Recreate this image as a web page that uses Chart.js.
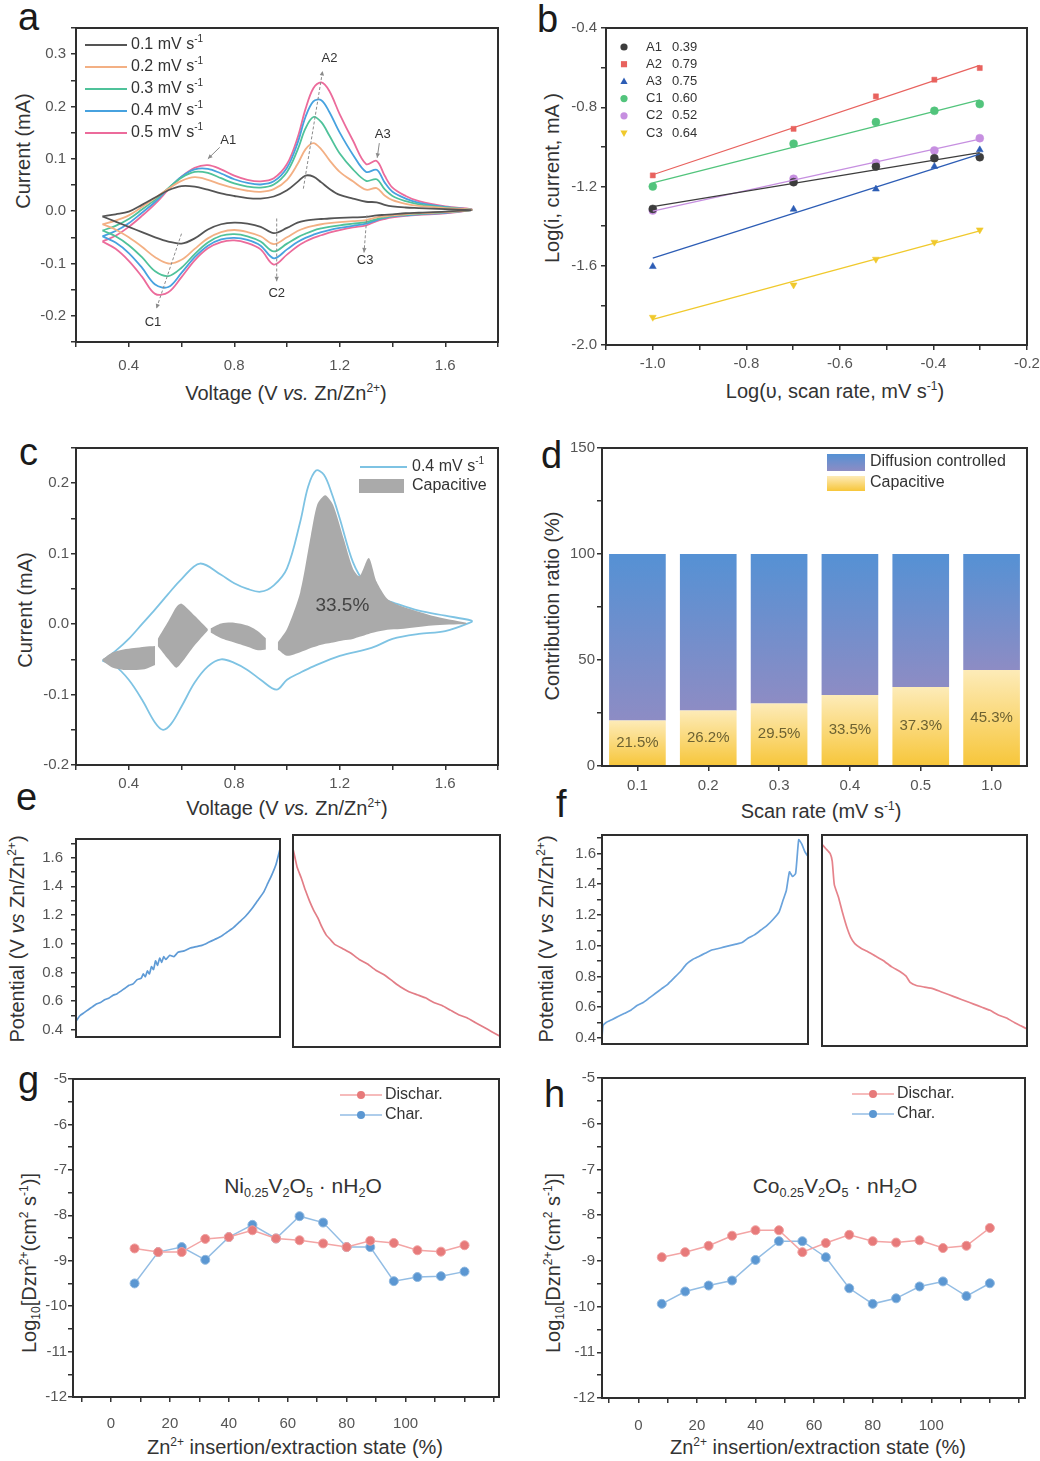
<!DOCTYPE html>
<html><head><meta charset="utf-8"><title>Figure</title>
<script src="https://cdn.jsdelivr.net/npm/chart.js@4.4.1/dist/chart.umd.min.js"></script>
<style>
html,body{margin:0;padding:0;background:#fff;}
body{width:1040px;height:1461px;position:relative;overflow:hidden;font-family:"Liberation Sans",Arial,Helvetica,sans-serif;}
canvas{position:absolute;}
.t{position:absolute;color:#333;font-size:20px;white-space:nowrap;line-height:1;}
.yt{transform:translate(-50%,-50%) rotate(-90deg);}
.xt{transform:translate(-50%,-50%);}
.t sup{font-size:0.6em;vertical-align:0.7em;line-height:0;}
.t sub{font-size:0.6em;vertical-align:-0.3em;line-height:0;}
.L{position:absolute;font-size:38px;line-height:1;color:#1a1a1a;}
.fm{position:absolute;font-size:21px;line-height:1;color:#333;white-space:nowrap;transform:translateX(-50%);}
.fm sub{font-size:0.6em;vertical-align:-0.35em;line-height:0;}
</style></head><body>
<div class="L" style="left:18px;top:-2px">a</div>
<div class="L" style="left:537px;top:0px">b</div>
<div class="L" style="left:19px;top:433px">c</div>
<div class="L" style="left:541px;top:436px">d</div>
<div class="L" style="left:16px;top:778px">e</div>
<div class="L" style="left:556px;top:785px">f</div>
<div class="L" style="left:18px;top:1061px">g</div>
<div class="L" style="left:544px;top:1075px">h</div>

<div class="t yt" style="left:23px;top:151px">Current (mA)</div>
<div class="t xt" style="left:286px;top:393px">Voltage (V <i>vs.</i> Zn/Zn<sup>2+</sup>)</div>
<div class="t yt" style="left:552px;top:178px">Log(i, current, mA )</div>
<div class="t xt" style="left:835px;top:391px">Log(υ, scan rate, mV s<sup>-1</sup>)</div>
<div class="t yt" style="left:25px;top:610px">Current (mA)</div>
<div class="t xt" style="left:287px;top:808px">Voltage (V <i>vs.</i> Zn/Zn<sup>2+</sup>)</div>
<div class="t yt" style="left:552px;top:606px">Contribution ratio (%)</div>
<div class="t xt" style="left:821px;top:811px">Scan rate (mV s<sup>-1</sup>)</div>
<div class="t yt" style="left:17px;top:939px">Potential (V <i>vs</i> Zn/Zn<sup>2+</sup>)</div>
<div class="t yt" style="left:546px;top:939px">Potential (V <i>vs</i> Zn/Zn<sup>2+</sup>)</div>
<div class="t yt" style="left:29px;top:1263px">Log<sub>10</sub>[Dzn<sup>2+</sup>(cm<sup>2</sup> s<sup>-1</sup>)]</div>
<div class="t yt" style="left:553px;top:1263px">Log<sub>10</sub>[Dzn<sup>2+</sup>(cm<sup>2</sup> s<sup>-1</sup>)]</div>
<div class="t xt" style="left:295px;top:1447px">Zn<sup>2+</sup> insertion/extraction state (%)</div>
<div class="t xt" style="left:818px;top:1447px">Zn<sup>2+</sup> insertion/extraction state (%)</div>
<div class="fm" style="left:303px;top:1175px">Ni<sub>0.25</sub>V<sub>2</sub>O<sub>5</sub>&nbsp;·&nbsp;nH<sub>2</sub>O</div>
<div class="fm" style="left:835px;top:1175px">Co<sub>0.25</sub>V<sub>2</sub>O<sub>5</sub>&nbsp;·&nbsp;nH<sub>2</sub>O</div>

<script>
const FONT='"Liberation Sans", Arial, Helvetica, sans-serif';

// ===== Panel a: CV curves at several scan rates =====
const scanRateNames=['0.1','0.2','0.3','0.4','0.5'];
const voltageGrid=[0.30,0.35,0.40,0.45,0.50,0.55,0.60,0.65,0.70,0.75,0.80,0.85,0.90,0.95,1.00,1.04,1.07,1.10,1.13,1.16,1.20,1.25,1.30,1.34,1.37,1.40,1.45,1.50,1.60,1.70];
const anodic01=[-0.010,-0.006,-0.001,0.012,0.026,0.040,0.048,0.047,0.041,0.034,0.029,0.025,0.024,0.028,0.040,0.056,0.068,0.066,0.055,0.043,0.031,0.024,0.018,0.017,0.012,0.009,0.007,0.006,0.004,0.002];
const anodic02=[-0.025,-0.018,-0.008,0.008,0.025,0.043,0.058,0.065,0.060,0.051,0.044,0.039,0.037,0.042,0.060,0.090,0.118,0.130,0.118,0.098,0.075,0.057,0.041,0.044,0.030,0.021,0.014,0.010,0.006,0.003];
const anodic03=[-0.037,-0.028,-0.015,0.003,0.022,0.044,0.064,0.075,0.073,0.063,0.053,0.047,0.045,0.051,0.075,0.117,0.158,0.180,0.170,0.145,0.110,0.080,0.058,0.061,0.042,0.029,0.019,0.013,0.007,0.003];
const anodic04=[-0.048,-0.038,-0.023,-0.003,0.018,0.043,0.066,0.080,0.081,0.072,0.061,0.054,0.051,0.057,0.083,0.130,0.180,0.210,0.212,0.190,0.150,0.108,0.075,0.079,0.055,0.037,0.024,0.016,0.008,0.003];
const anodic05=[-0.058,-0.047,-0.030,-0.009,0.014,0.041,0.066,0.083,0.088,0.080,0.068,0.060,0.057,0.063,0.090,0.140,0.195,0.235,0.246,0.230,0.185,0.135,0.090,0.096,0.068,0.045,0.029,0.019,0.009,0.004];
const cathodic01=[-0.010,-0.020,-0.030,-0.040,-0.050,-0.058,-0.062,-0.052,-0.035,-0.025,-0.022,-0.024,-0.030,-0.042,-0.032,-0.022,-0.018,-0.016,-0.015,-0.014,-0.013,-0.012,-0.011,-0.008,-0.007,-0.006,-0.004,-0.003,-0.001,0.002];
const cathodic02=[-0.025,-0.035,-0.050,-0.068,-0.088,-0.100,-0.093,-0.072,-0.052,-0.040,-0.036,-0.040,-0.048,-0.063,-0.050,-0.038,-0.032,-0.028,-0.025,-0.023,-0.021,-0.019,-0.017,-0.012,-0.010,-0.008,-0.006,-0.004,-0.002,0.002];
const cathodic03=[-0.037,-0.048,-0.065,-0.088,-0.115,-0.124,-0.108,-0.082,-0.060,-0.047,-0.044,-0.048,-0.058,-0.077,-0.062,-0.050,-0.043,-0.037,-0.033,-0.030,-0.027,-0.024,-0.021,-0.015,-0.012,-0.009,-0.007,-0.005,-0.002,0.002];
const cathodic04=[-0.048,-0.060,-0.080,-0.108,-0.140,-0.145,-0.118,-0.088,-0.066,-0.054,-0.051,-0.055,-0.066,-0.090,-0.073,-0.059,-0.051,-0.045,-0.040,-0.036,-0.032,-0.028,-0.024,-0.017,-0.013,-0.010,-0.008,-0.006,-0.003,0.002];
const cathodic05=[-0.058,-0.072,-0.095,-0.125,-0.158,-0.155,-0.126,-0.094,-0.071,-0.059,-0.056,-0.061,-0.073,-0.102,-0.083,-0.067,-0.058,-0.051,-0.046,-0.041,-0.036,-0.031,-0.027,-0.019,-0.015,-0.012,-0.009,-0.007,-0.004,0.002];

// ===== Panel b: log(i) vs log(v) =====
const logScanRate=[-1.0,-0.699,-0.523,-0.398,-0.301];
const peakNames=['A1','A2','A3','C1','C2','C3'];
const bSlopes=[0.39,0.79,0.75,0.60,0.52,0.64];
const logI_A1=[-1.313,-1.178,-1.099,-1.057,-1.052];
const logI_A2=[-1.144,-0.909,-0.745,-0.661,-0.602];
const logI_A3=[-1.604,-1.315,-1.213,-1.099,-1.015];
const logI_C1=[-1.200,-0.984,-0.875,-0.818,-0.784];
const logI_C2=[-1.321,-1.161,-1.082,-1.018,-0.956];
const logI_C3=[-1.860,-1.697,-1.567,-1.481,-1.419];

// ===== Panel c: CV at 0.4 mV/s and capacitive part =====
const cvVoltAnodic=[0.30,0.35,0.40,0.45,0.50,0.55,0.60,0.67,0.75,0.80,0.85,0.90,0.95,1.00,1.05,1.08,1.11,1.14,1.17,1.20,1.25,1.30,1.35,1.40,1.50,1.60,1.70];
const cvCurrAnodic=[-0.052,-0.038,-0.021,0.000,0.021,0.043,0.064,0.086,0.070,0.058,0.050,0.046,0.055,0.079,0.145,0.195,0.218,0.212,0.185,0.150,0.088,0.055,0.038,0.031,0.019,0.012,0.005];
const cvVoltCathodic=[0.30,0.35,0.40,0.45,0.50,0.53,0.56,0.60,0.65,0.70,0.75,0.80,0.85,0.90,0.96,1.00,1.05,1.10,1.20,1.30,1.34,1.40,1.50,1.60,1.70];
const cvCurrCathodic=[-0.052,-0.060,-0.079,-0.107,-0.140,-0.150,-0.142,-0.117,-0.083,-0.060,-0.050,-0.055,-0.065,-0.079,-0.093,-0.079,-0.069,-0.060,-0.045,-0.036,-0.031,-0.021,-0.014,-0.010,0.003];
const capV1=[0.30,0.34,0.38,0.42,0.46,0.50];
const capUp1=[-0.050,-0.040,-0.036,-0.034,-0.032,-0.031];
const capLo1=[-0.052,-0.062,-0.065,-0.065,-0.064,-0.058];
const capV2=[0.51,0.55,0.58,0.60,0.65,0.70];
const capUp2=[-0.021,0.004,0.024,0.029,0.012,-0.007];
const capLo2=[-0.031,-0.050,-0.062,-0.055,-0.030,-0.009];
const capV3=[0.71,0.75,0.80,0.85,0.89,0.92];
const capUp3=[-0.006,0.001,0.002,-0.002,-0.010,-0.020];
const capLo3=[-0.012,-0.020,-0.026,-0.032,-0.037,-0.036];
const capV4=[0.965,1.00,1.05,1.09,1.115,1.145,1.175,1.215,1.25,1.275,1.31,1.34,1.38,1.43,1.55,1.68];
const capUp4=[-0.026,-0.007,0.045,0.125,0.170,0.183,0.169,0.121,0.079,0.068,0.094,0.060,0.036,0.026,0.012,0.002];
const capLo4=[-0.036,-0.045,-0.040,-0.034,-0.031,-0.028,-0.026,-0.023,-0.021,-0.018,-0.014,-0.011,-0.008,-0.007,-0.002,0.000];

// ===== Panel d: contribution ratio =====
const scanRateLabels=['0.1','0.2','0.3','0.4','0.5','1.0'];
const capacitivePct=[21.5,26.2,29.5,33.5,37.3,45.3];

// ===== Panels e, f: GITT profiles =====
const eChargeX=[0,2,4,6,8,10,12,14,16,18,20,22,24,26,28,30,32,33,34,35,36,37,38,39,40,41,42,43,44,46,48,50,53,56,59,62,65,68,71,74,77,80,83,86,89,92,94,96,98,100];
const eChargeV=[0.46,0.50,0.52,0.54,0.56,0.58,0.59,0.61,0.62,0.64,0.65,0.67,0.69,0.71,0.72,0.75,0.76,0.79,0.77,0.81,0.79,0.84,0.82,0.88,0.85,0.90,0.87,0.91,0.89,0.92,0.91,0.94,0.95,0.97,0.98,0.99,1.01,1.03,1.05,1.08,1.11,1.15,1.19,1.24,1.30,1.36,1.42,1.48,1.55,1.66];
const eDischX=[0,1,2,4,6,8,10,12,14,16,18,20,24,28,32,36,40,44,48,52,56,60,64,68,72,76,80,84,88,92,96,100];
const eDischV=[1.64,1.58,1.52,1.45,1.37,1.30,1.24,1.19,1.13,1.08,1.05,1.02,0.99,0.96,0.92,0.89,0.85,0.82,0.78,0.74,0.71,0.69,0.67,0.64,0.62,0.59,0.56,0.54,0.51,0.48,0.45,0.42];
const fChargeX=[0,0.5,2,5,8,11,14,17,20,23,26,29,32,35,38,41,44,47,50,53,56,59,62,65,68,71,74,77,80,83,86,88,89.5,91,92.5,94,95.5,97,98.5,100];
const fChargeV=[0.40,0.48,0.50,0.52,0.54,0.56,0.58,0.61,0.63,0.66,0.69,0.72,0.75,0.79,0.83,0.88,0.91,0.93,0.95,0.97,0.98,0.99,1.00,1.01,1.02,1.05,1.07,1.10,1.13,1.17,1.22,1.30,1.36,1.48,1.45,1.47,1.69,1.66,1.61,1.58];
const fDischX=[0,2,4,5,6,8,10,12,14,16,19,22,26,30,34,38,41,43,46,50,54,58,62,66,70,74,78,82,86,90,94,97,100];
const fDischV=[1.66,1.63,1.60,1.55,1.40,1.32,1.22,1.13,1.06,1.02,0.99,0.97,0.94,0.91,0.87,0.84,0.81,0.77,0.75,0.74,0.73,0.71,0.69,0.67,0.65,0.63,0.61,0.59,0.56,0.54,0.51,0.49,0.47];

// ===== Panels g, h: diffusion coefficients =====
const stateX=[8,16,24,32,40,48,56,64,72,80,88,96,104,112,120];
const gDischar=[-8.73,-8.81,-8.81,-8.52,-8.48,-8.33,-8.51,-8.55,-8.62,-8.70,-8.56,-8.61,-8.77,-8.80,-8.66];
const gChar=[-9.50,-8.81,-8.70,-8.98,-8.48,-8.21,-8.51,-8.02,-8.16,-8.70,-8.70,-9.45,-9.36,-9.34,-9.24];
const hDischar=[-8.92,-8.81,-8.67,-8.45,-8.33,-8.33,-8.81,-8.61,-8.43,-8.57,-8.60,-8.55,-8.72,-8.67,-8.28];
const hChar=[-9.94,-9.67,-9.54,-9.43,-8.98,-8.57,-8.57,-8.92,-9.60,-9.94,-9.82,-9.56,-9.45,-9.77,-9.49];

// ================= helpers =================
Chart.defaults.font.family=FONT;
Chart.defaults.color='#555';
Chart.defaults.animation=false;
Chart.defaults.plugins.legend.display=false;
Chart.defaults.plugins.tooltip.enabled=false;

function fmt(v,dec){ if(Math.abs(v)<1e-9) v=0; return dec==null? String(Math.round(v)) : v.toFixed(dec); }
function onStep(v,s){ const r=v/s; return Math.abs(r-Math.round(r))<1e-6; }
function lin(min,max,step,major,dec,pad,labelMax){
  return {type:'linear',min,max,
    grid:{display:true,drawOnChartArea:false,drawTicks:true,tickLength:5,lineWidth:1.5,color:'#333'},
    border:{display:false},
    afterBuildTicks:s=>{const out=[];const k0=Math.ceil(min/step-1e-6),k1=Math.floor(max/step+1e-6);
      for(let k=k0;k<=k1;k++){out.push({value:Math.round(k*step*1e6)/1e6});} s.ticks=out;},
    ticks:{stepSize:step,autoSkip:false,maxRotation:0,minRotation:0,color:'#555',font:{family:FONT,size:15},padding:pad,
      callback:v=>(onStep(v,major)&&(labelMax==null||v<=labelMax+1e-9))?fmt(v,dec):''}};
}
function hid(min,max){ return {type:'linear',min,max,display:false}; }

const framePlugin={id:'frame',afterDatasetsDraw(ch){const {ctx,chartArea:a}=ch;ctx.save();ctx.strokeStyle='#2e2e2e';ctx.lineWidth=2;ctx.strokeRect(a.left,a.top,a.right-a.left,a.bottom-a.top);ctx.restore();}};

function makeChart(rect,box,type,data,scales,plugins){
  const [cx,cy,cw,ch]=rect,[L,T,R,B]=box;
  const cv=document.createElement('canvas');
  cv.width=cw;cv.height=ch;cv.style.left=cx+'px';cv.style.top=cy+'px';cv.style.width=cw+'px';cv.style.height=ch+'px';
  document.body.appendChild(cv);
  const yShow=scales.y.display!==false,xShow=scales.x.display!==false;
  const yW=L-cx,xH=cy+ch-B;
  if(yShow) scales.y.afterFit=s=>{s.width=yW;};
  if(xShow) scales.x.afterFit=s=>{s.height=xH;};
  return new Chart(cv,{type,data,options:{responsive:false,devicePixelRatio:1,animation:false,
    layout:{padding:{left:yShow?0:yW,top:T-cy,right:cx+cw-R,bottom:xShow?0:xH}},
    scales,plugins:{legend:{display:false},tooltip:{enabled:false}}},
    plugins:[framePlugin].concat(plugins||[])});
}
function rich(ctx,x,y,parts,size,color,align){
  let w=0;
  parts.forEach(([t,k])=>{ctx.font=(k==='n'?size:Math.round(size*0.62))+'px '+FONT;w+=ctx.measureText(t).width;});
  let cx=align==='center'?x-w/2:x;
  ctx.textAlign='left';ctx.textBaseline='middle';ctx.fillStyle=color;
  parts.forEach(([t,k])=>{const s=k==='n'?size:Math.round(size*0.62);ctx.font=s+'px '+FONT;
    const dy=k==='sup'?-size*0.33:(k==='sub'?size*0.25:0);ctx.fillText(t,cx,y+dy);cx+=ctx.measureText(t).width;});
}
function arrow(ctx,x1,y1,x2,y2,dash){
  ctx.save();ctx.strokeStyle='#8a8a8a';ctx.fillStyle='#8a8a8a';ctx.lineWidth=1;ctx.setLineDash(dash?[3,2]:[]);
  ctx.beginPath();ctx.moveTo(x1,y1);ctx.lineTo(x2,y2);ctx.stroke();ctx.setLineDash([]);
  const ang=Math.atan2(y2-y1,x2-x1),h=5;
  ctx.beginPath();ctx.moveTo(x2,y2);ctx.lineTo(x2-h*Math.cos(ang-0.45),y2-h*Math.sin(ang-0.45));
  ctx.lineTo(x2-h*Math.cos(ang+0.45),y2-h*Math.sin(ang+0.45));ctx.closePath();ctx.fill();ctx.restore();
}
function marker(ctx,style,x,y,r,color){
  ctx.save();ctx.fillStyle=color;ctx.beginPath();
  if(style==='circle'){ctx.arc(x,y,r,0,Math.PI*2);}
  else if(style==='rect'){ctx.rect(x-r*0.85,y-r*0.85,r*1.7,r*1.7);}
  else if(style==='triangle'){ctx.moveTo(x,y-r*1.1);ctx.lineTo(x+r,y+r*0.7);ctx.lineTo(x-r,y+r*0.7);ctx.closePath();}
  else if(style==='triDown'){ctx.moveTo(x,y+r*1.1);ctx.lineTo(x+r,y-r*0.7);ctx.lineTo(x-r,y-r*0.7);ctx.closePath();}
  ctx.fill();ctx.restore();
}
function pts(xs,ys){return xs.map((x,i)=>({x,y:ys[i]}));}
function loop(xu,yu,xl,yl){const p=pts(xu,yu);for(let i=xl.length-1;i>=0;i--)p.push({x:xl[i],y:yl[i]});return p;}

// ================= Panel a =================
const rateColors=['#555555','#f3b084','#4fc29a','#47a2df','#ec6b9b'];
const anodicSets=[anodic01,anodic02,anodic03,anodic04,anodic05];
const cathodicSets=[cathodic01,cathodic02,cathodic03,cathodic04,cathodic05];
const legendA={id:'legA',afterDraw(ch){const {ctx,chartArea:a}=ch;
  scanRateNames.forEach((r,i)=>{const y=a.top+17+i*22;ctx.save();ctx.strokeStyle=rateColors[i];ctx.lineWidth=2;
    ctx.beginPath();ctx.moveTo(a.left+9,y);ctx.lineTo(a.left+51,y);ctx.stroke();ctx.restore();
    rich(ctx,a.left+55,y,[[r+' mV s','n'],['-1','sup']],16,'#333');});}};
const annotA={id:'annA',afterDraw(ch){const {ctx}=ch;const X=v=>ch.scales.x.getPixelForValue(v),Y=v=>ch.scales.y.getPixelForValue(v);
  const items=[
    {t:'A1',tx:0.777,ty:0.136,l:[0.745,0.122,0.700,0.100],d:false},
    {t:'A2',tx:1.161,ty:0.292,l:[1.062,0.043,1.135,0.268],d:true},
    {t:'A3',tx:1.363,ty:0.146,l:[1.350,0.130,1.342,0.102],d:false},
    {t:'C1',tx:0.492,ty:-0.212,l:[0.600,-0.043,0.505,-0.186],d:true},
    {t:'C2',tx:0.961,ty:-0.158,l:[0.961,-0.014,0.961,-0.134],d:true},
    {t:'C3',tx:1.296,ty:-0.094,l:[1.303,-0.008,1.292,-0.079],d:true}];
  items.forEach(it=>{arrow(ctx,X(it.l[0]),Y(it.l[1]),X(it.l[2]),Y(it.l[3]),it.d);
    ctx.save();ctx.font='13px '+FONT;ctx.fillStyle='#333';ctx.textAlign='center';ctx.textBaseline='middle';ctx.fillText(it.t,X(it.tx),Y(it.ty));ctx.restore();});}};
makeChart([30,10,485,362],[76,28,498,342],'scatter',
  {datasets:scanRateNames.map((n,i)=>({label:n+' mV s-1',data:loop(voltageGrid,anodicSets[i],voltageGrid,cathodicSets[i]),
    showLine:true,borderColor:rateColors[i],borderWidth:1.8,pointRadius:0,tension:0.35,fill:false}))},
  {x:lin(0.2,1.8,0.2,0.4,1,10),y:lin(-0.25,0.35,0.05,0.1,1,5)},[legendA,annotA]);

// ================= Panel b =================
const bSeriesY=[logI_A1,logI_A2,logI_A3,logI_C1,logI_C2,logI_C3];
const bColors=['#3d3d3d','#e8625e','#2d5db5','#52c47c','#c68fe0','#f0c92c'];
const bStyles=['circle','rect','triangle','circle','circle','triDown'];
function fitLine(xs,ys,slope){const mx=xs.reduce((s,v)=>s+v,0)/xs.length,my=ys.reduce((s,v)=>s+v,0)/ys.length;
  const x0=Math.min(...xs),x1=Math.max(...xs);return [{x:x0,y:my+slope*(x0-mx)},{x:x1,y:my+slope*(x1-mx)}];}
const bDatasets=[];
peakNames.forEach((n,i)=>{
  bDatasets.push({label:n+' fit',data:fitLine(logScanRate,bSeriesY[i],bSlopes[i]),showLine:true,borderColor:bColors[i],borderWidth:1.3,pointRadius:0});
});
peakNames.forEach((n,i)=>{
  const st=bStyles[i];
  bDatasets.push({label:n,data:pts(logScanRate,bSeriesY[i]),showLine:false,pointStyle:st==='triDown'?'triangle':st,pointRotation:st==='triDown'?180:0,
    pointRadius:st==='rect'?3.6:4,backgroundColor:bColors[i],borderColor:bColors[i],pointBackgroundColor:bColors[i],pointBorderColor:bColors[i],borderWidth:0.5});
});
const legendB={id:'legB',afterDraw(ch){const {ctx,chartArea:a}=ch;
  peakNames.forEach((n,i)=>{const y=a.top+19+i*17.2;marker(ctx,bStyles[i],a.left+18,y,3.6,bColors[i]);
    ctx.save();ctx.font='13px '+FONT;ctx.fillStyle='#333';ctx.textAlign='left';ctx.textBaseline='middle';
    ctx.fillText(n,a.left+40,y);ctx.fillText(bSlopes[i].toFixed(2),a.left+66,y);ctx.restore();});}};
makeChart([555,10,495,365],[606,28,1027,345],'scatter',{datasets:bDatasets},
  {x:lin(-1.1,-0.2,0.1,0.2,1,5),y:lin(-2.0,-0.4,0.2,0.4,1,4)},[legendB]);

// ================= Panel c =================
const capSegs=[[capV1,capUp1,capLo1],[capV2,capUp2,capLo2],[capV3,capUp3,capLo3],[capV4,capUp4,capLo4]];
const cDatasets=[];
capSegs.forEach(([xv,up,lo])=>{
  cDatasets.push({label:'Capacitive',data:pts(xv,up),showLine:true,borderWidth:0,borderColor:'rgba(0,0,0,0)',pointRadius:0,tension:0.25,fill:'+1',backgroundColor:'#aaaaaa'});
  cDatasets.push({label:'cap-lo',data:pts(xv,lo),showLine:true,borderWidth:0,borderColor:'rgba(0,0,0,0)',pointRadius:0,tension:0.25,fill:false});
});
cDatasets.push({label:'0.4 mV s-1',data:loop(cvVoltAnodic,cvCurrAnodic,cvVoltCathodic,cvCurrCathodic),showLine:true,borderColor:'#7ec3e3',borderWidth:1.8,pointRadius:0,tension:0.35,fill:false});
const legendC={id:'legC',afterDraw(ch){const {ctx,chartArea:a}=ch;
  ctx.save();ctx.strokeStyle='#7ec3e3';ctx.lineWidth=2;ctx.beginPath();ctx.moveTo(a.left+284,a.top+19);ctx.lineTo(a.left+331,a.top+19);ctx.stroke();
  ctx.fillStyle='#aaaaaa';ctx.fillRect(a.left+283,a.top+31,45,14);ctx.restore();
  rich(ctx,a.left+336,a.top+19,[['0.4 mV s','n'],['-1','sup']],16,'#333');
  rich(ctx,a.left+336,a.top+38,[['Capacitive','n']],16,'#333');
  const X=ch.scales.x.getPixelForValue(1.21),Y=ch.scales.y.getPixelForValue(0.026);
  rich(ctx,X,Y,[[capacitivePct[3].toFixed(1)+'%','n']],19,'#444','center');}};
makeChart([30,430,485,365],[76,448,498,765],'scatter',{datasets:cDatasets},
  {x:lin(0.2,1.8,0.2,0.4,1,5),y:lin(-0.2,0.25,0.05,0.1,1,2)},[legendC]);

// ================= Panel d =================
function barGrad(c,lo,hi,top,bot){const chart=c.chart;if(!chart.chartArea||!chart.scales.y)return bot;
  const y=chart.scales.y;const yt=y.getPixelForValue(hi),yb=y.getPixelForValue(lo);
  const g=chart.ctx.createLinearGradient(0,yt,0,yb);g.addColorStop(0,top);g.addColorStop(1,bot);return g;}
const diffusionPct=capacitivePct.map(v=>100-v);
const dXScale={type:'category',offset:true,stacked:true,
  grid:{display:true,drawOnChartArea:false,drawTicks:true,tickLength:5,lineWidth:1.5,color:'#333',offset:false},
  border:{display:false},ticks:{color:'#555',font:{family:FONT,size:15},padding:6}};
const dYScale=lin(0,150,25,50,null,2);dYScale.stacked=true;
const legendD={id:'legD',afterDraw(ch){const {ctx,chartArea:a}=ch;
  ctx.save();let g=ctx.createLinearGradient(0,a.top+6,0,a.top+23);g.addColorStop(0,'#5591d4');g.addColorStop(1,'#8d8cc4');
  ctx.fillStyle=g;ctx.fillRect(a.left+225,a.top+6,38,17);
  g=ctx.createLinearGradient(0,a.top+28,0,a.top+43);g.addColorStop(0,'#fdebb8');g.addColorStop(1,'#f7c63a');
  ctx.fillStyle=g;ctx.fillRect(a.left+225,a.top+28,38,15);ctx.restore();
  rich(ctx,a.left+268,a.top+14,[['Diffusion controlled','n']],16,'#333');
  rich(ctx,a.left+268,a.top+35,[['Capacitive','n']],16,'#333');
  const meta=ch.getDatasetMeta(0);
  meta.data.forEach((bar,i)=>{rich(ctx,bar.x,(bar.y+bar.base)/2,[[capacitivePct[i].toFixed(1)+'%','n']],15,'#6d6232','center');});}};
makeChart([555,430,495,366],[602,448,1027,766],'bar',
  {labels:scanRateLabels,datasets:[
    {label:'Capacitive',data:capacitivePct,backgroundColor:c=>barGrad(c,0,capacitivePct[c.dataIndex]||0,'#fdebb8','#f7c63a'),barPercentage:0.8,categoryPercentage:1.0,borderWidth:0},
    {label:'Diffusion controlled',data:diffusionPct,backgroundColor:c=>barGrad(c,capacitivePct[c.dataIndex]||0,100,'#5591d4','#8d8cc4'),barPercentage:0.8,categoryPercentage:1.0,borderWidth:0}]},
  {x:dXScale,y:dYScale},[legendD]);

// ================= Panels e, f =================
function gittSet(xs,ys,color){return {datasets:[{label:'GITT',data:pts(xs,ys),showLine:true,borderColor:color,borderWidth:1.7,pointRadius:0,tension:0.15,fill:false}]};}
makeChart([30,822,260,232],[76,835,280,1047],'scatter',gittSet(eChargeX,eChargeV,'#5f9bd6'),{x:hid(0,100),y:lin(0.35,1.73,0.1,0.2,1,8)});
makeChart([286,822,224,232],[293,835,500,1047],'scatter',gittSet(eDischX,eDischV,'#e27d86'),{x:hid(0,100),y:hid(0.35,1.73)});
makeChart([555,822,263,232],[602,835,808,1046],'scatter',gittSet(fChargeX,fChargeV,'#6aa3dc'),{x:hid(0,100),y:lin(0.36,1.72,0.1,0.2,1,1)});
makeChart([815,822,225,232],[822,835,1027,1046],'scatter',gittSet(fDischX,fDischV,'#e6838b'),{x:hid(0,100),y:hid(0.36,1.72)});

// ================= Panels g, h =================
const disLine='#f3a5a5',disMark='#e77a7a',chLine='#93bde4',chMark='#5b97d2';
function diffSets(dis,chg){return {datasets:[
  {label:'Dischar.',data:pts(stateX,dis),showLine:true,borderColor:disLine,borderWidth:1.5,pointRadius:4.5,pointBackgroundColor:disMark,pointBorderColor:'#f0a0a0',pointBorderWidth:1,tension:0},
  {label:'Char.',data:pts(stateX,chg),showLine:true,borderColor:chLine,borderWidth:1.5,pointRadius:4.5,pointBackgroundColor:chMark,pointBorderColor:'#8fb8e0',pointBorderWidth:1,tension:0}]};}
function legendGH(x0){return {id:'legGH',afterDraw(ch){const {ctx,chartArea:a}=ch;
  [['Dischar.',disLine,disMark],['Char.',chLine,chMark]].forEach(([n,lc,mc],i)=>{const y=a.top+16+i*20;
    ctx.save();ctx.strokeStyle=lc;ctx.lineWidth=1.5;ctx.beginPath();ctx.moveTo(a.left+x0,y);ctx.lineTo(a.left+x0+42,y);ctx.stroke();ctx.restore();
    marker(ctx,'circle',a.left+x0+21,y,4,mc);
    rich(ctx,a.left+x0+45,y,[[n,'n']],16,'#333');});}};}
makeChart([25,1062,490,372],[73,1079,499,1397],'scatter',diffSets(gDischar,gChar),
  {x:lin(-12.9,131.7,10,20,null,13,100),y:lin(-12,-5,0.5,1,null,1)},[legendGH(267)]);
makeChart([555,1062,495,372],[602,1078,1025,1398],'scatter',diffSets(hDischar,hChar),
  {x:lin(-12.4,132,10,20,null,14,100),y:lin(-12,-5,0.5,1,null,2)},[legendGH(250)]);
</script>
</body></html>
